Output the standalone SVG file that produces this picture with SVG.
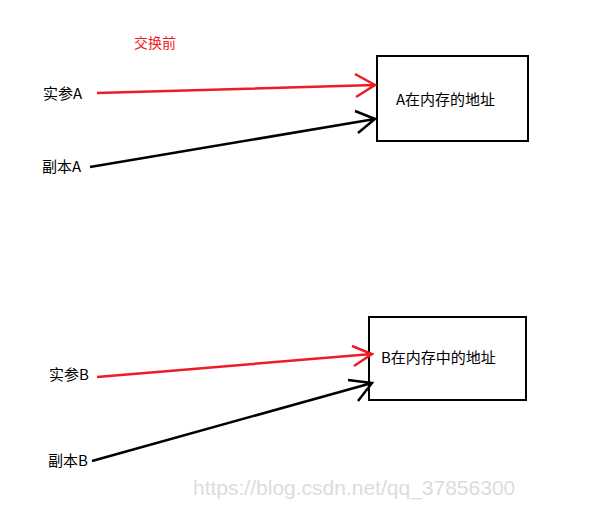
<svg xmlns="http://www.w3.org/2000/svg" width="612" height="509" viewBox="0 0 612 509">
<style>
.t{font-family:"Noto Sans CJK SC","Liberation Sans",sans-serif;font-size:15px;fill:#000}
.box{fill:#fff;stroke:#000;stroke-width:2}
.r{stroke:#ed1c24;stroke-width:2.5;fill:none}
.k{stroke:#000;stroke-width:2.5;fill:none}
</style>
<rect width="612" height="509" fill="#fff"/>
<text x="134" y="48" class="t" style="fill:#ed1c24;font-size:14px">交换前</text>
<g id="nodeA"><rect x="377" y="56" width="151" height="85" class="box"/><text x="396" y="105" class="t">A在内存的地址</text></g>
<g id="nodeB"><rect x="369" y="317" width="157" height="83" class="box"/><text x="381" y="363" class="t">B在内存中的地址</text></g>
<g id="l1"><text x="43" y="99" class="t">实参A</text></g>
<g id="l2"><text x="42" y="172" class="t">副本A</text></g>
<g id="l3"><text x="49" y="380" class="t">实参B</text></g>
<g id="l4"><text x="48" y="466" class="t">副本B</text></g>
<g id="connectors">
<path class="r" d="M97 93 L375 85 M355 74 L375 85 L356 97"/>
<path class="k" d="M90 167 L375 119 M355 111 L375 119 L358 133"/>
<path class="r" d="M97 377 L372 354 M352 346 L372 354 L354 366"/>
<path class="k" d="M92 461 L372 383 M348 380 L372 383 L358 401"/>
</g>
<text x="193" y="495" style="font-family:'Liberation Sans',sans-serif;font-size:21px;fill:#dcdcdc">https://blog.csdn.net/qq_37856300</text>
</svg>
